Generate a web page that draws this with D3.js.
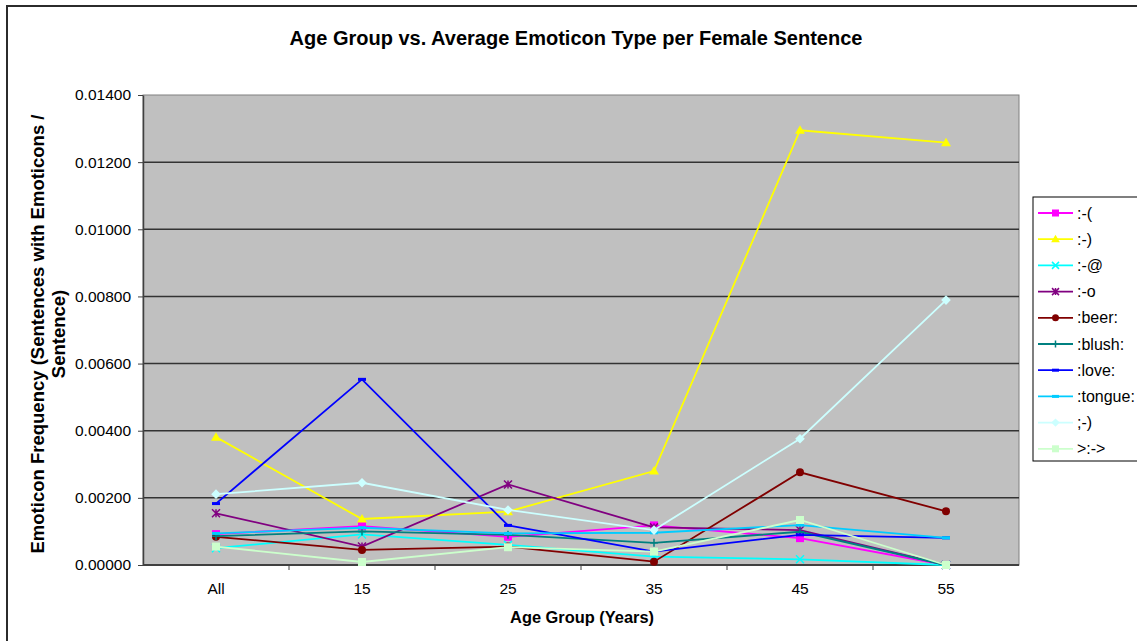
<!DOCTYPE html>
<html>
<head>
<meta charset="utf-8">
<script src="https://cdn.jsdelivr.net/npm/d3@7"></script>
<style>
  html, body { margin: 0; padding: 0; background: #fff; }
  svg { display: block; font-family: "Liberation Sans", Arial, sans-serif; }
</style>
</head>
<body>
<svg id="chart" width="1137" height="641"></svg>
<script>
// Age groups on the x axis
const ageGroups = ["All", "15", "25", "35", "45", "55"];

// Average emoticon frequency per female sentence, one array per emoticon
const frown   = [0.00092, 0.00116, 0.00084, 0.00118, 0.00080, 0.00000]; // :-(
const smile   = [0.00381, 0.00137, 0.00159, 0.00280, 0.01295, 0.01258]; // :-)
const angry   = [0.00050, 0.00091, 0.00060, 0.00025, 0.00017, 0.00000]; // :-@
const shocked = [0.00154, 0.00055, 0.00240, 0.00112, 0.00104, 0.00000]; // :-o
const beer    = [0.00084, 0.00045, 0.00055, 0.00010, 0.00276, 0.00160]; // :beer:
const blush   = [0.00086, 0.00100, 0.00090, 0.00066, 0.00099, 0.00000]; // :blush:
const love    = [0.00183, 0.00553, 0.00118, 0.00040, 0.00090, 0.00081]; // :love:
const tongue  = [0.00094, 0.00111, 0.00094, 0.00096, 0.00119, 0.00081]; // :tongue:
const wink    = [0.00211, 0.00245, 0.00164, 0.00104, 0.00376, 0.00789]; // ;-)
const devil   = [0.00055, 0.00009, 0.00053, 0.00040, 0.00134, 0.00000]; // >:->

const seriesNames = [":-(", ":-)", ":-@", ":-o", ":beer:", ":blush:", ":love:", ":tongue:", ";-)", ">:->"];
const seriesValues = [frown, smile, angry, shocked, beer, blush, love, tongue, wink, devil];
const seriesColors = ["#FF00FF", "#FFFF00", "#00FFFF", "#800080", "#800000", "#008080", "#0000FF", "#00CCFF", "#CCFFFF", "#CCFFCC"];
const seriesMarkers = ["square", "triangle", "times", "asterisk", "circle", "plus", "dash", "dash", "diamond", "square"];

const yTicks = [0, 0.002, 0.004, 0.006, 0.008, 0.010, 0.012, 0.014];

const svg = d3.select("#chart");
const W = 1137, H = 641;
const plot = { left: 143, top: 95, right: 1019, bottom: 565 };

// outer chart frame (runs past the right and bottom edges)
svg.append("rect")
  .attr("x", 7).attr("y", 6).attr("width", W + 10).attr("height", H + 10)
  .attr("fill", "#fff").attr("stroke", "#2b2b2b").attr("stroke-width", 2);

const x = d3.scaleBand().domain(ageGroups).range([plot.left, plot.right]).padding(0);
const y = d3.scaleLinear().domain([0, 0.014]).range([plot.bottom, plot.top]);
const cx = d => x(d) + x.bandwidth() / 2;

// plot background
svg.append("rect")
  .attr("x", plot.left).attr("y", plot.top)
  .attr("width", plot.right - plot.left).attr("height", plot.bottom - plot.top)
  .attr("fill", "#C0C0C0").attr("stroke", "#808080").attr("stroke-width", 1);

// horizontal gridlines
svg.append("g").selectAll("line")
  .data(yTicks.filter(v => v > 0 && v < 0.014))
  .join("line")
  .attr("x1", plot.left).attr("x2", plot.right)
  .attr("y1", d => y(d)).attr("y2", d => y(d))
  .attr("stroke", "#333").attr("stroke-width", 1.5);

// y axis
const yAxis = svg.append("g")
  .attr("transform", `translate(${plot.left},0)`)
  .call(d3.axisLeft(y).tickValues(yTicks).tickFormat(d3.format(".5f")).tickSize(5).tickSizeOuter(0).tickPadding(7));
yAxis.select(".domain").attr("stroke", "#404040").attr("stroke-width", 1.5);
yAxis.selectAll(".tick line").attr("stroke", "#404040");
yAxis.selectAll(".tick text").attr("font-size", 15.5).attr("fill", "#000")
  .attr("font-family", "Liberation Sans, Arial, sans-serif");

// x axis: labels centred in bands, tick marks on band boundaries
const xAxis = svg.append("g").attr("transform", `translate(0,${plot.bottom})`);
xAxis.append("line")
  .attr("x1", plot.left).attr("x2", plot.right)
  .attr("stroke", "#404040").attr("stroke-width", 2);
xAxis.selectAll("line.tk")
  .data(ageGroups.slice(1))
  .join("line").attr("class", "tk")
  .attr("x1", d => x(d)).attr("x2", d => x(d))
  .attr("y1", 0).attr("y2", 5)
  .attr("stroke", "#404040");
xAxis.selectAll("text")
  .data(ageGroups)
  .join("text")
  .attr("x", d => cx(d)).attr("y", 29)
  .attr("text-anchor", "middle").attr("font-size", 15.5).attr("fill", "#000")
  .text(d => d);

// titles
svg.append("text")
  .attr("x", 576).attr("y", 45)
  .attr("text-anchor", "middle").attr("font-weight", "bold").attr("font-size", 20)
  .text("Age Group vs. Average Emoticon Type per Female Sentence");

svg.append("text")
  .attr("x", 582).attr("y", 623)
  .attr("text-anchor", "middle").attr("font-weight", "bold").attr("font-size", 16.4)
  .text("Age Group (Years)");

const yTitle = svg.append("text")
  .attr("transform", "translate(44,334) rotate(-90)")
  .attr("text-anchor", "middle").attr("font-weight", "bold").attr("font-size", 18.5);
yTitle.append("tspan").attr("x", 0).attr("y", 0).text("Emoticon Frequency (Sentences with Emoticons /");
yTitle.append("tspan").attr("x", 0).attr("y", 21).text("Sentence)");

// marker drawing
function drawMarker(g, type, color, size) {
  const s = size;
  switch (type) {
    case "square":
      g.append("rect").attr("x", -s / 2).attr("y", -s / 2).attr("width", s).attr("height", s).attr("fill", color);
      break;
    case "triangle":
      g.append("path").attr("d", `M0,${-s * 0.62}L${s * 0.62},${s * 0.45}L${-s * 0.62},${s * 0.45}Z`).attr("fill", color);
      break;
    case "circle":
      g.append("circle").attr("r", s / 2).attr("fill", color);
      break;
    case "diamond":
      g.append("path").attr("d", `M0,${-s * 0.6}L${s * 0.6},0L0,${s * 0.6}L${-s * 0.6},0Z`).attr("fill", color);
      break;
    case "times":
      g.append("path").attr("d", `M${-s / 2},${-s / 2}L${s / 2},${s / 2}M${s / 2},${-s / 2}L${-s / 2},${s / 2}`)
        .attr("stroke", color).attr("stroke-width", 1.5).attr("fill", "none");
      break;
    case "plus":
      g.append("path").attr("d", `M0,${-s / 2}L0,${s / 2}M${-s / 2},0L${s / 2},0`)
        .attr("stroke", color).attr("stroke-width", 1.5).attr("fill", "none");
      break;
    case "asterisk":
      g.append("path").attr("d", `M${-s / 2},${-s / 2}L${s / 2},${s / 2}M${s / 2},${-s / 2}L${-s / 2},${s / 2}M0,${-s / 2}L0,${s / 2}`)
        .attr("stroke", color).attr("stroke-width", 1.5).attr("fill", "none");
      break;
    case "dash":
      g.append("rect").attr("x", -s / 2).attr("y", -1.5).attr("width", s).attr("height", 3).attr("fill", color);
      break;
  }
}

// series lines and markers
const line = d3.line().x((d, i) => cx(ageGroups[i])).y(d => y(d));
const seriesG = svg.append("g");
seriesValues.forEach((vals, k) => {
  const g = seriesG.append("g");
  g.append("path").datum(vals)
    .attr("d", line).attr("fill", "none")
    .attr("stroke", seriesColors[k]).attr("stroke-width", 1.8);
  g.selectAll("g.m").data(vals).join("g").attr("class", "m")
    .attr("transform", (d, i) => `translate(${cx(ageGroups[i])},${y(d)})`)
    .each(function () { drawMarker(d3.select(this), seriesMarkers[k], seriesColors[k], 8); });
});

// legend
const legend = svg.append("g");
legend.append("rect")
  .attr("x", 1033).attr("y", 197).attr("width", 120).attr("height", 264)
  .attr("fill", "#fff").attr("stroke", "#000").attr("stroke-width", 1);
seriesNames.forEach((name, k) => {
  const ly = 213 + k * 26.2;
  const item = legend.append("g").attr("transform", `translate(0,${ly})`);
  item.append("line").attr("x1", 1038).attr("x2", 1073).attr("y1", 0).attr("y2", 0)
    .attr("stroke", seriesColors[k]).attr("stroke-width", 1.8);
  const m = item.append("g").attr("transform", "translate(1055.5,0)");
  drawMarker(m, seriesMarkers[k], seriesColors[k], 7);
  item.append("text").attr("x", 1077).attr("y", 5.5)
    .attr("font-size", 16).attr("fill", "#000").text(name);
});
</script>
</body>
</html>
